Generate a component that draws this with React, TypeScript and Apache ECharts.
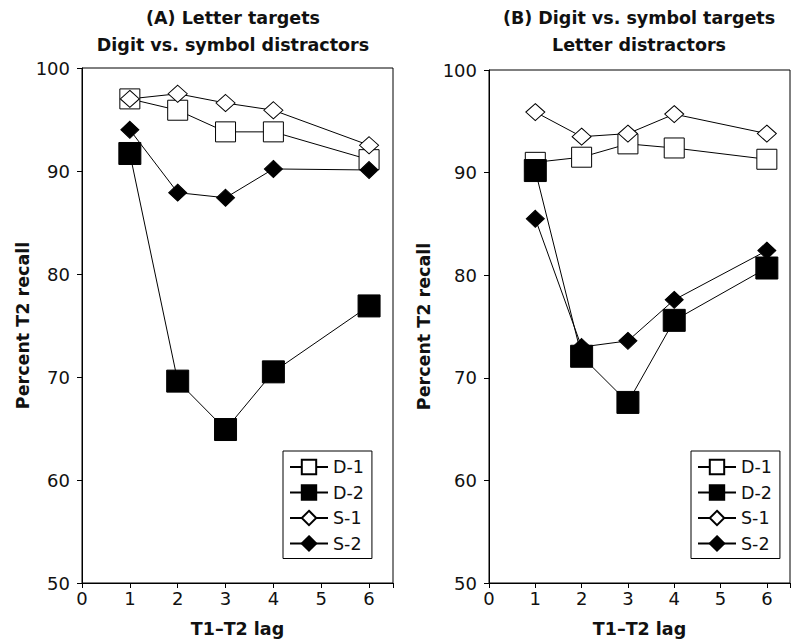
import React, { useEffect, useRef } from "react";
import * as echarts from "echarts";

const lags = [1, 2, 3, 4, 6];
const seriesNames = ["D-1", "D-2", "S-1", "S-2"];
const xTicks = [0, 1, 2, 3, 4, 5, 6];
const yTicks = [50, 60, 70, 80, 90, 100];

// Panel A: Letter targets, digit vs. symbol distractors
const aD1 = [97.0, 95.9, 93.8, 93.8, 91.1];
const aD2 = [91.7, 69.6, 64.9, 70.5, 76.9];
const aS1 = [97.0, 97.5, 96.6, 95.9, 92.5];
const aS2 = [94.0, 87.9, 87.4, 90.2, 90.1];

// Panel B: Digit vs. symbol targets, letter distractors
const bD1 = [91.0, 91.5, 92.8, 92.4, 91.3];
const bD2 = [90.2, 72.1, 67.6, 75.6, 80.7];
const bS1 = [95.9, 93.5, 93.8, 95.7, 93.8];
const bS2 = [85.5, 73.0, 73.6, 77.6, 82.4];

const titlesA = ["(A) Letter targets", "Digit vs. symbol distractors"];
const titlesB = ["(B) Digit vs. symbol targets", "Letter distractors"];
const xName = "T1\u2013T2 lag";
const yName = "Percent T2 recall";

const FONT = "DejaVu Sans";
const INK = "#111";

function pts(vals: number[]) {
  return lags.map((x, i) => [x, vals[i]]);
}

const styles: Record<string, any> = {
  "D-1": { symbol: "rect", symbolSize: 20, color: "#fff" },
  "D-2": { symbol: "rect", symbolSize: 22, color: "#000" },
  "S-1": { symbol: "diamond", symbolSize: [19, 17], color: "#fff" },
  "S-2": { symbol: "diamond", symbolSize: [18, 17], color: "#000" },
};

function mkSeries(name: string, vals: number[], idx: number) {
  const s = styles[name];
  return {
    type: "line",
    name,
    xAxisIndex: idx,
    yAxisIndex: idx,
    data: pts(vals),
    symbol: s.symbol,
    symbolSize: s.symbolSize,
    lineStyle: { color: "#000", width: 1 },
    itemStyle: { color: s.color, borderColor: "#000", borderWidth: 1, opacity: 1 },
    emphasis: { disabled: true },
  };
}

function mkXAxis(idx: number) {
  return {
    type: "value",
    gridIndex: idx,
    min: 0,
    max: 6.5,
    interval: 1,
    name: xName,
    nameLocation: "middle",
    nameGap: 37,
    nameTextStyle: { fontFamily: FONT, fontWeight: "bold", fontSize: 17.5, color: INK },
    axisLine: { show: true, lineStyle: { color: "#000", width: 1 } },
    axisTick: { show: true, length: 5, lineStyle: { color: "#000" } },
    axisLabel: {
      margin: 6,
      fontFamily: FONT,
      fontSize: 18,
      color: INK,
      formatter: (v: number) => (xTicks.includes(v) ? String(v) : ""),
    },
    splitLine: { show: false },
  };
}

function mkYAxis(idx: number, gap: number) {
  return {
    type: "value",
    gridIndex: idx,
    min: 50,
    max: 100,
    interval: 10,
    name: yName,
    nameLocation: "middle",
    nameGap: gap,
    nameTextStyle: { fontFamily: FONT, fontWeight: "bold", fontSize: 17.5, color: INK },
    axisLine: { show: true, lineStyle: { color: "#000", width: 1 } },
    axisTick: { show: true, length: 5, lineStyle: { color: "#000" } },
    axisLabel: {
      margin: 12,
      fontFamily: FONT,
      fontSize: 18,
      color: INK,
      formatter: (v: number) => (yTicks.includes(v) ? String(v) : ""),
    },
    splitLine: { show: false },
  };
}

function mkLegend(left: number) {
  return {
    data: seriesNames,
    orient: "vertical",
    left,
    top: 451,
    itemWidth: 38,
    itemHeight: 18,
    itemGap: 7.5,
    padding: [7, 8, 6, 6],
    borderColor: "#000",
    borderWidth: 1,
    backgroundColor: "#fff",
    selectedMode: false,
    textStyle: { fontFamily: FONT, fontSize: 17.5, color: INK },
  };
}

function titleText(x: number, lines: string[]) {
  return lines.map((t, i) => ({
    type: "text",
    x,
    y: 18 + i * 27,
    style: {
      text: t,
      fill: INK,
      font: `bold 17.5px "${FONT}"`,
      align: "center",
      verticalAlign: "middle",
      textAlign: "center",
      textVerticalAlign: "middle",
    },
  }));
}

export default function App() {
  const ref = useRef<HTMLDivElement>(null);
  useEffect(() => {
    document.body.style.margin = "0";
    if (!ref.current) return;
    const chart = echarts.init(ref.current, undefined, { renderer: "svg" });
    chart.setOption({
      animation: false,
      backgroundColor: "#fff",
      grid: [
        { left: 82, top: 68, width: 311, height: 515, show: true, borderColor: "#000", borderWidth: 1, backgroundColor: "transparent" },
        { left: 489, top: 70, width: 314, height: 513, show: true, borderColor: "#000", borderWidth: 1, backgroundColor: "transparent" },
      ],
      xAxis: [mkXAxis(0), mkXAxis(1)],
      yAxis: [mkYAxis(0, 49), mkYAxis(1, 56)],
      legend: [mkLegend(283), mkLegend(691)],
      series: [
        mkSeries("D-1", aD1, 0),
        mkSeries("S-1", aS1, 0),
        mkSeries("S-2", aS2, 0),
        mkSeries("D-2", aD2, 0),
        mkSeries("D-1", bD1, 1),
        mkSeries("S-1", bS1, 1),
        mkSeries("S-2", bS2, 1),
        mkSeries("D-2", bD2, 1),
      ],
      graphic: [...titleText(233, titlesA), ...titleText(639, titlesB)],
    });
    return () => chart.dispose();
  }, []);
  return <div ref={ref} style={{ width: 793, height: 644 }} />;
}
